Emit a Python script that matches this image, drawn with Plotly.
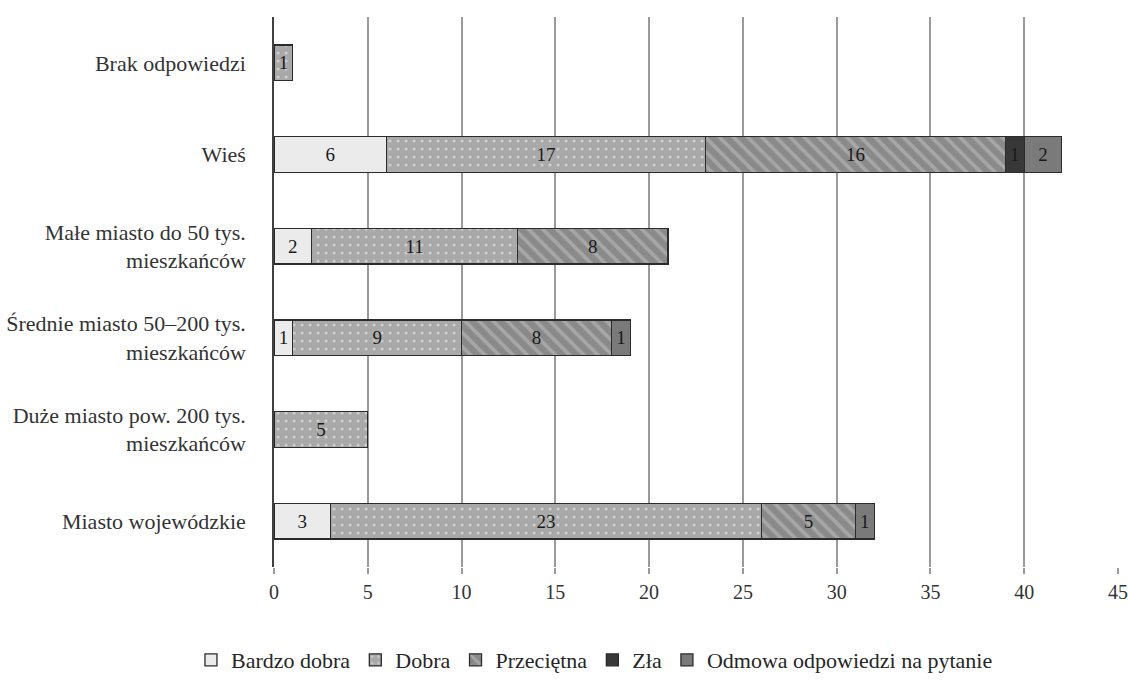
import plotly.graph_objects as go

# Place of residence (bottom to top on the chart)
categories = [
    "Miasto wojewódzkie",
    "Duże miasto pow. 200 tys.<br>mieszkańców",
    "Średnie miasto 50–200 tys.<br>mieszkańców",
    "Małe miasto do 50 tys.<br>mieszkańców",
    "Wieś",
    "Brak odpowiedzi",
]

bardzo_dobra = [3, 0, 1, 2, 6, 0]
dobra = [23, 5, 9, 11, 17, 1]
przecietna = [5, 0, 8, 8, 16, 0]
zla = [0, 0, 0, 0, 1, 0]
odmowa = [1, 0, 1, 0, 2, 0]

x_ticks = [0, 5, 10, 15, 20, 25, 30, 35, 40, 45]

FONT = "Liberation Serif"
EDGE = dict(color="#2b2b2b", width=1.3)

series = [
    ("Bardzo dobra", bardzo_dobra, dict(color="#ebebeb", line=EDGE)),
    ("Dobra", dobra, dict(color="#a9a9a9", line=EDGE,
                          pattern=dict(shape=".", fgcolor="#f4f4f4", bgcolor="#a9a9a9",
                                       size=8, solidity=0.12, fillmode="overlay"))),
    ("Przeciętna", przecietna, dict(color="#8a8a8a", line=EDGE,
                                    pattern=dict(shape="\\", fgcolor="#c4c4c4", bgcolor="#8a8a8a",
                                                 size=10, solidity=0.35, fillmode="overlay"))),
    ("Zła", zla, dict(color="#383838", line=EDGE)),
    ("Odmowa odpowiedzi na pytanie", odmowa, dict(color="#7a7a7a", line=EDGE)),
]

fig = go.Figure()
for name, vals, marker in series:
    fig.add_trace(go.Bar(
        name=name,
        y=categories,
        x=[v if v else None for v in vals],
        orientation="h",
        marker=marker,
        text=[str(v) if v else "" for v in vals],
        texttemplate="%{text}",
        textposition="inside",
        insidetextanchor="middle",
        textangle=0,
        constraintext="none",
        textfont=dict(family=FONT, size=19, color="#1a1a1a"),
        width=0.39,
        hoverinfo="skip",
    ))

fig.update_layout(
    barmode="stack",
    width=1128,
    height=684,
    margin=dict(l=274, r=10, t=17, b=117, autoexpand=False),
    paper_bgcolor="white",
    plot_bgcolor="white",
    font=dict(family=FONT, color="#333333"),
    uniformtext=dict(minsize=19, mode="show"),
    legend=dict(
        orientation="h",
        xref="container", yref="container",
        x=0.527, y=0.035, xanchor="center", yanchor="middle",
        bgcolor="rgba(0,0,0,0)",
        font=dict(family=FONT, size=22, color="#262626"),
        itemwidth=30,
        traceorder="normal",
    ),
    xaxis=dict(
        range=[0, 45],
        tickvals=x_ticks,
        automargin=False,
        showgrid=True,
        gridcolor="#9a9a9a",
        gridwidth=1.5,
        zeroline=False,
        showline=False,
        ticks="outside",
        ticklen=6,
        tickcolor="#9a9a9a",
        tickwidth=1.5,
        ticklabelstandoff=1,
        tickfont=dict(family=FONT, size=20, color="#333333"),
    ),
    yaxis=dict(
        automargin=False,
        showgrid=False,
        showline=True,
        linecolor="#404040",
        linewidth=1.5,
        ticks="",
        ticklabelstandoff=22,
        tickfont=dict(family=FONT, size=22, color="#333333"),
    ),
)

fig.write_html("out.html")
